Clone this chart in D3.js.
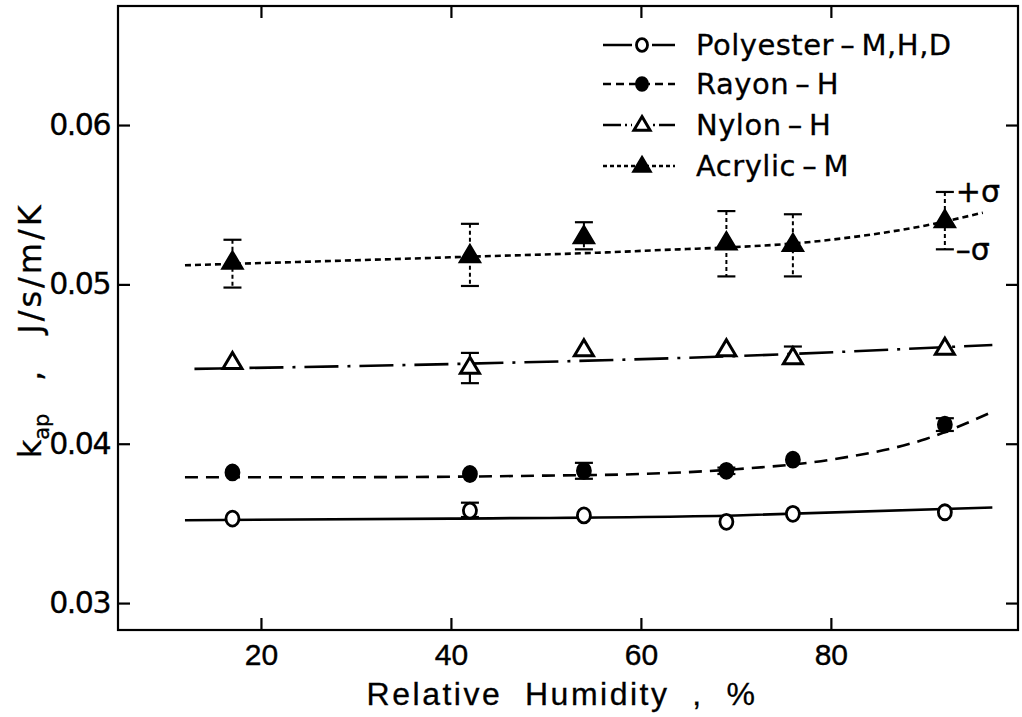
<!DOCTYPE html>
<html><head><meta charset="utf-8">
<script src="https://cdn.jsdelivr.net/npm/d3@7"></script>
<style>
html,body{margin:0;padding:0;background:#fff;}
svg text{font-family:"DejaVu Sans","Liberation Sans",sans-serif;fill:#000;}
</style></head>
<body><svg id="c" width="1022" height="717"></svg>
<script>
// ---- data ----
const humidity = [17, 42, 54, 69, 76, 92];
const polyester = [0.0353, 0.0358, 0.0355, 0.0351, 0.0356, 0.0357];
const rayon     = [0.0382, 0.0381, 0.0383, 0.0383, 0.0390, 0.0412];
const nylon     = [0.0451, 0.0448, 0.0459, 0.0459, 0.0454, 0.0460];
const acrylic   = [0.0514, 0.0518, 0.0530, 0.0526, 0.0525, 0.0540];
// error bars (+sigma / -sigma), null = none drawn
const polyesterHi = [null, 0.0363, null, null, null, null];
const polyesterLo = [null, 0.0354, null, null, null, null];
const rayonHi = [null, null, 0.0388, 0.0385, null, 0.0416];
const rayonLo = [null, null, 0.0378, 0.0381, null, 0.0408];
const nylonHi = [null, 0.0457, null, null, 0.0461, null];
const nylonLo = [null, 0.0438, null, null, 0.0452, null];
const acrylicHi = [0.0528, 0.0538, 0.0539, 0.0546, 0.0544, 0.0558];
const acrylicLo = [0.0498, 0.0499, 0.0522, 0.0505, 0.0505, 0.0522];
// fitted curves (knots)
const polyFitX = [12, 40, 70, 97];
const polyFit  = [0.0352, 0.0353, 0.0355, 0.0360];
const rayonFitX = [12, 30, 50, 60, 70, 80, 90, 97];
const rayonFit  = [0.0379, 0.0379, 0.0380, 0.0381, 0.0384, 0.0390, 0.0403, 0.0420];
const nylonFitX = [13, 40, 70, 97];
const nylonFit  = [0.0447, 0.0450, 0.0455, 0.0462];
const acrylicFitX = [12, 40, 60, 80, 90, 96];
const acrylicFit  = [0.0512, 0.0517, 0.0521, 0.0528, 0.0537, 0.0545];
const xTicks = [20, 40, 60, 80];
const yTicks = [0.03, 0.04, 0.05, 0.06];
const yTickLabels = ["0.03", "0.04", "0.05", "0.06"];
const seriesNames = ["Polyester\u2009\u2013\u2009M,H,D", "Rayon\u2009\u2013\u2009H", "Nylon\u2009\u2013\u2009H", "Acrylic\u2009\u2013\u2009M"];

// ---- drawing ----
const svg = d3.select("#c");
const L = 118, R = 1018, T = 6, B = 630;
const x = d3.scaleLinear().domain([4.95, 99.7]).range([L, R]);
const y = d3.scaleLinear().domain([0.02831, 0.06747]).range([B, T]);
const narrow = "'Liberation Sans Narrow','Liberation Sans',sans-serif";

const styles = [
  {dash: null, legDash: null, marker: "circle", fill: "#fff"},
  {dash: "13,8", legDash: "8,5", marker: "circle", fill: "#000"},
  {dash: "34,9,3,9", legDash: "18,4,2,4", marker: "tri", fill: "#fff"},
  {dash: "6,4", legDash: "4,3", marker: "tri", fill: "#000"}
];
const values = [polyester, rayon, nylon, acrylic];
const his = [polyesterHi, rayonHi, nylonHi, acrylicHi];
const los = [polyesterLo, rayonLo, nylonLo, acrylicLo];
const fitsX = [polyFitX, rayonFitX, nylonFitX, acrylicFitX];
const fits = [polyFit, rayonFit, nylonFit, acrylicFit];

// frame
svg.append("rect").attr("x", L).attr("y", T).attr("width", R - L).attr("height", B - T)
  .attr("fill", "none").attr("stroke", "#000").attr("stroke-width", 2.2);

// axes with inward ticks on all sides
const ax = svg.append("g").attr("transform", `translate(0,${B})`)
  .call(d3.axisBottom(x).tickValues(xTicks).tickSizeInner(-12).tickSizeOuter(0).tickPadding(14));
const axT = svg.append("g").attr("transform", `translate(0,${T})`)
  .call(d3.axisTop(x).tickValues(xTicks).tickSizeInner(-12).tickSizeOuter(0).tickFormat(""));
const ay = svg.append("g").attr("transform", `translate(${L},0)`)
  .call(d3.axisLeft(y).tickValues(yTicks).tickSizeInner(-12).tickSizeOuter(0).tickPadding(8)
    .tickFormat((d, i) => yTickLabels[i]));
const ayR = svg.append("g").attr("transform", `translate(${R},0)`)
  .call(d3.axisRight(y).tickValues(yTicks).tickSizeInner(-12).tickSizeOuter(0).tickFormat(""));
[ax, axT, ay, ayR].forEach(g => {
  g.select(".domain").remove();
  g.selectAll("line").attr("stroke", "#000").attr("stroke-width", 2.2);
});
ax.selectAll("text").style("font-family", narrow).attr("font-size", 30)
  .attr("stroke", "#000").attr("stroke-width", 0.4);
ay.selectAll("text").attr("font-size", 30).attr("letter-spacing", -1.5)
  .attr("stroke", "#000").attr("stroke-width", 0.3);

// axis titles
svg.append("text").attr("x", 562).attr("y", 705).attr("text-anchor", "middle")
  .attr("font-size", 32).style("font-family", narrow).attr("letter-spacing", 2.5)
  .attr("stroke", "#000").attr("stroke-width", 0.3)
  .style("white-space", "pre")
  .text("Relative  Humidity  ,  %");
const yTitle = svg.append("g").attr("stroke", "#000").attr("stroke-width", 0.3);
const ytK = yTitle.append("text").attr("transform", "translate(41,436) rotate(-90)")
  .attr("text-anchor", "middle").attr("font-size", 32);
ytK.append("tspan").text("k");
ytK.append("tspan").attr("font-size", 21).attr("dy", 8).text("ap");
yTitle.append("text").attr("transform", "translate(41,376) rotate(-90)")
  .attr("text-anchor", "middle").attr("font-size", 32).text(",");
yTitle.append("text").attr("transform", "translate(41,268) rotate(-90)")
  .attr("text-anchor", "middle").attr("font-size", 32).attr("letter-spacing", 3).text("J/s/m/K");

// fitted lines
const line = d3.line().x(d => x(d[0])).y(d => y(d[1])).curve(d3.curveMonotoneX);
fits.forEach((f, i) => {
  svg.append("path").datum(f.map((v, j) => [fitsX[i][j], v]))
    .attr("d", line).attr("fill", "none").attr("stroke", "#000").attr("stroke-width", 2.6)
    .attr("stroke-dasharray", styles[i].dash);
});

// error bars
values.forEach((vals, i) => {
  humidity.forEach((h, j) => {
    const hi = his[i][j], lo = los[i][j];
    if (hi == null) return;
    const g = svg.append("g").attr("stroke", "#000");
    g.append("line").attr("x1", x(h)).attr("x2", x(h)).attr("y1", y(hi)).attr("y2", y(lo))
      .attr("stroke-width", i === 3 ? 2 : 2.2).attr("stroke-dasharray", i === 3 ? "4,3" : null);
    [hi, lo].forEach(v => g.append("line").attr("x1", x(h) - 9).attr("x2", x(h) + 9)
      .attr("y1", y(v)).attr("y2", y(v)).attr("stroke-width", 2.2));
  });
});

// markers
function marker(g, type, fill, cx, cy, s) {
  if (type === "circle") {
    g.append("ellipse").attr("cx", cx).attr("cy", cy).attr("rx", 6.5 * s).attr("ry", 7.5 * s)
      .attr("fill", fill).attr("stroke", "#000").attr("stroke-width", 2.8);
  } else {
    const h = 16 * s, w = 9.5 * s;
    g.append("path").attr("d", `M${cx},${cy - h * 0.62}L${cx + w},${cy + h * 0.38}L${cx - w},${cy + h * 0.38}Z`)
      .attr("fill", fill).attr("stroke", "#000").attr("stroke-width", 3).attr("stroke-linejoin", "miter");
  }
}
values.forEach((vals, i) => {
  const g = svg.append("g");
  vals.forEach((v, j) => marker(g, styles[i].marker, styles[i].fill, x(humidity[j]), y(v), 1));
});

// sigma labels
svg.append("text").attr("x", x(humidity[5]) + 11).attr("y", y(acrylicHi[5]) + 10)
  .attr("font-size", 30).attr("stroke", "#000").attr("stroke-width", 0.4).text("+σ");
svg.append("text").attr("x", x(humidity[5]) + 11).attr("y", y(acrylicLo[5]) + 11)
  .attr("font-size", 30).attr("stroke", "#000").attr("stroke-width", 0.4).text("\u2013σ");

// legend
const legY = [45, 84, 125, 166];
seriesNames.forEach((name, i) => {
  const g = svg.append("g");
  g.append("line").attr("x1", 603).attr("x2", 675).attr("y1", legY[i]).attr("y2", legY[i])
    .attr("stroke", "#000").attr("stroke-width", 2.4).attr("stroke-dasharray", styles[i].legDash);
  if (styles[i].fill === "#fff") {
    g.append("rect").attr("x", 632).attr("y", legY[i] - 8).attr("width", 20).attr("height", 16).attr("fill", "#fff");
  }
  marker(g, styles[i].marker, styles[i].fill, 642, legY[i], 0.85);
  g.append("text").attr("x", 696).attr("y", legY[i] + 10).attr("font-size", 29).attr("letter-spacing", 0.5)
    .attr("stroke", "#000").attr("stroke-width", 0.3).text(name);
});
</script></body></html>
